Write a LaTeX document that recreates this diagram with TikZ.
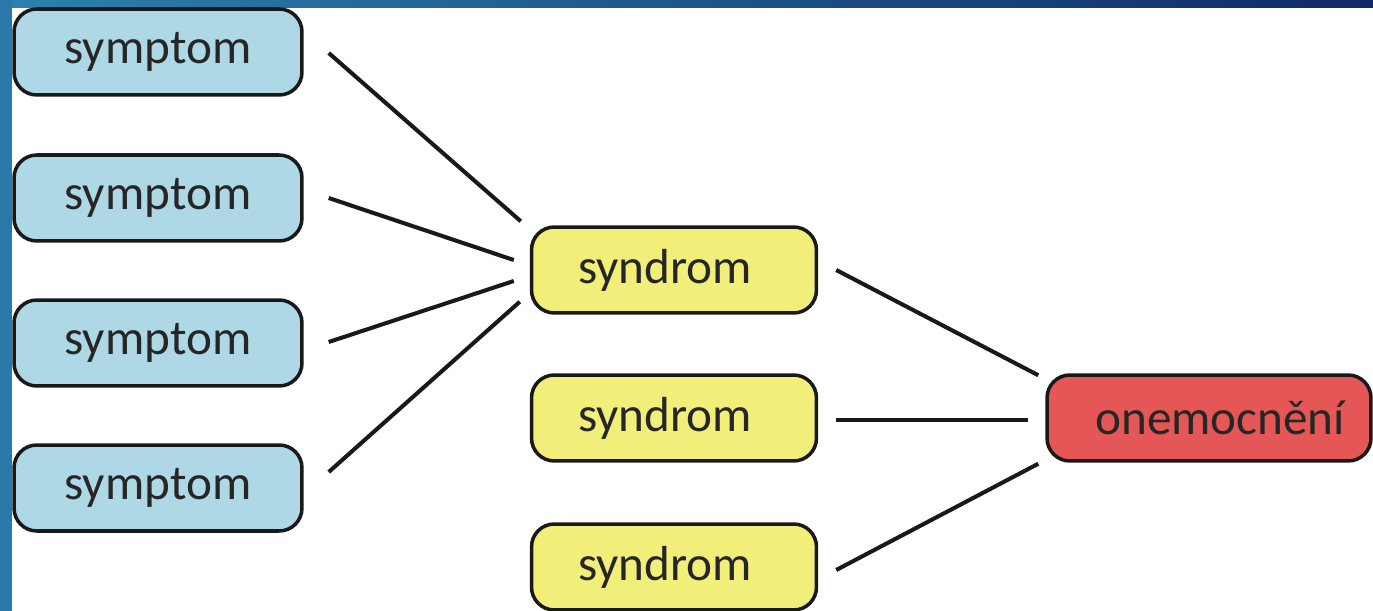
\documentclass[tikz,border=0pt]{standalone}
\usepackage{fontspec}
\setmainfont{Carlito}
\usetikzlibrary{calc}
\usetikzlibrary{positioning}
\definecolor{sym-blue}{HTML}{AED8E6}
\definecolor{syn-yellow}{HTML}{F2EE7A}
\definecolor{dis-red}{HTML}{E55656}
\definecolor{bar-left}{HTML}{2D80AE}
\definecolor{bar-teal}{HTML}{3A98B6}
\definecolor{bar-navy}{HTML}{10296A}
\definecolor{strip-blue}{HTML}{2A79AA}
\tikzset{
  box/.style 2 args={
    draw=black!90,
    line width=2pt,
    rounded corners=13pt,
    fill=#2,
    minimum width=#1,
    minimum height=1.72cm,
    inner sep=0pt,
    text=black!85,
    font=\fontsize{28}{34}\selectfont},
}

\begin{document}
\begin{tikzpicture}[
  x=0.02cm, y=-0.02cm,
  link/.style={line width=2.3pt, draw=black!90}]
  \useasboundingbox (0,0) rectangle (1373,611);
  \fill[white] (0,0) rectangle (1373,611);
  \shade[left color=bar-left, middle color=bar-teal, right color=bar-navy] (0,0) rectangle (1373,8);
  \fill[strip-blue] (0,0) rectangle (12,611);

  % symptoms
  \foreach \y [count=\i from 1] in {52,198,343,488} {
    \node[box={5.76cm}{sym-blue}] (sym\i) at (158,\y) {symptom};
  }
  % syndromes
  \foreach \y [count=\i from 1] in {270,418,567} {
    \node[box={5.7cm}{syn-yellow}] (syn\i) at (674,\y) {\hspace{-0.35cm}syndrom};
  }
  \node[box={6.48cm}{dis-red}] (dis) at (1209,418) {\hspace{0.45cm}onemocnění};

  % symptom -> syndrom links
  \draw[link] ($(sym1.east)+(25,1)$) -- ($(syn1.north west)+(-9,-4)$);
  \draw[link] ($(sym2.east)+(25,0)$) -- ($(syn1.west)+(-16,-10)$);
  \draw[link] ($(sym3.east)+(25,-1)$) -- ($(syn1.west)+(-16,11)$);
  \draw[link] ($(sym4.east)+(25,-16)$) -- ($(syn1.south west)+(-10,-13)$);
  % syndrom -> disease links
  \draw[link] ($(syn1.east)+(18,0)$) -- ($(dis.north west)+(-7,2)$);
  \draw[link] ($(syn2.east)+(18,2)$) -- ($(dis.west)+(-17,2)$);
  \draw[link] ($(syn3.east)+(18,3)$) -- ($(dis.south west)+(-7,1)$);
\end{tikzpicture}
\end{document}
